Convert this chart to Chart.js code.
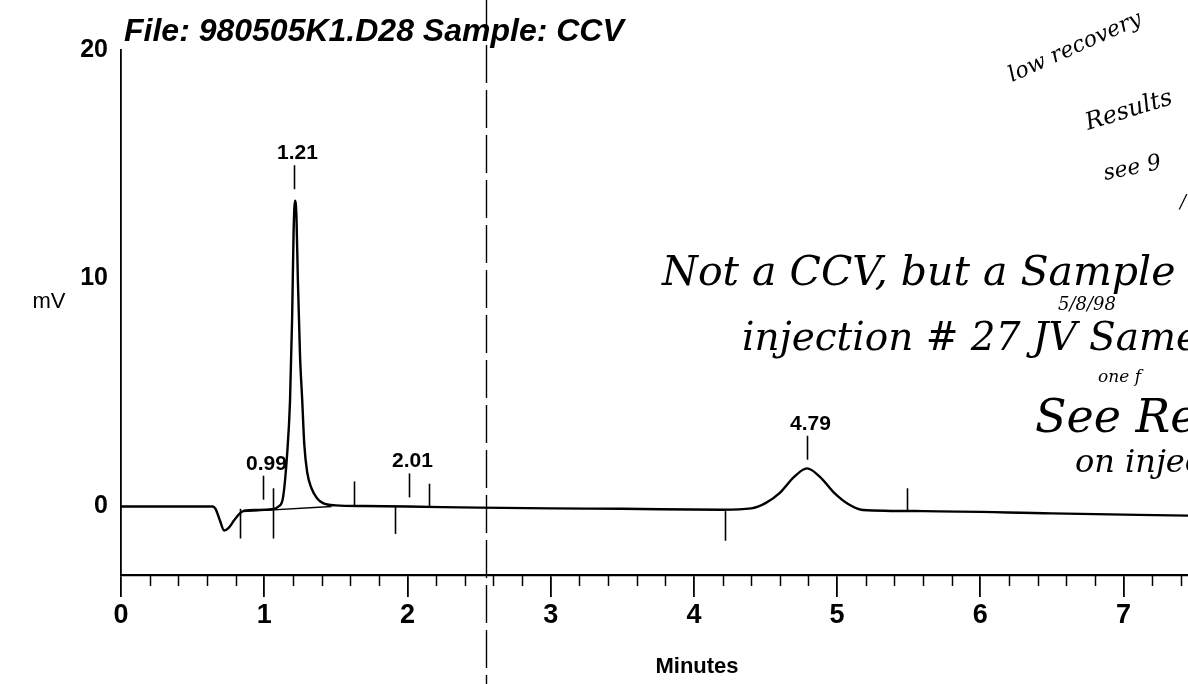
<!DOCTYPE html>
<html>
<head>
<meta charset="utf-8">
<title>980505K1.D28</title>
<script src="https://cdn.jsdelivr.net/npm/chart.js@4"></script>
<style>
  html, body { margin: 0; padding: 0; background: #fff; }
  #wrap { width: 1188px; height: 684px; position: relative; }
</style>
</head>
<body>
<div id="wrap"><canvas id="chromatogram"></canvas></div>
<script>
'use strict';

// Detector trace (minutes, mV)

let traceTimes = [0, 0.3, 0.64, 0.66, 0.69, 0.72, 0.75, 0.79, 0.83, 0.86, 0.95, 1.05, 1.10, 1.13, 1.16,
  1.18, 1.195, 1.205, 1.215, 1.225, 1.235, 1.25, 1.265, 1.28, 1.30, 1.33, 1.37, 1.41, 1.5, 1.7,
  2.0, 2.5, 3.0, 3.5, 4.2, 4.40, 4.50, 4.60, 4.70, 4.79, 4.88, 4.98, 5.08, 5.18, 5.6, 6.5, 7.45];
let traceValues = [0, 0, 0, -0.1, -0.6, -1.05, -0.95, -0.6, -0.3, -0.18, -0.15, -0.12, 0.0, 0.35, 2.3,
  4.6, 8.3, 12.0, 13.4, 12.7, 9.9, 6.6, 4.7, 2.7, 1.5, 0.8, 0.35, 0.15, 0.05, 0.02,
  0.0, -0.05, -0.08, -0.1, -0.14, -0.08, 0.15, 0.6, 1.3, 1.67, 1.3, 0.6, 0.1, -0.15, -0.2, -0.3, -0.4];

// integrator baseline drawn under the big peak
let baselineTimes = [0.85, 1.47];
let baselineValues = [-0.22, 0.0];

// labelled peaks: retention time and where the marker stands (mV)
let peakTimes = [0.99, 1.21, 2.01, 4.79];
let peakMarkBase = [0.3, 13.9, 0.4, 2.05];

// integration event marks
let eventTimes = [0.83, 1.06, 1.63, 1.91, 2.15, 4.22, 5.49];
let eventTop = [-0.1, 0.8, 1.1, 0.0, 1.0, -0.2, 0.8];
let eventBottom = [-1.4, -1.4, 0.0, -1.2, 0.0, -1.5, -0.2];

// axes
let xTicks = [0, 1, 2, 3, 4, 5, 6, 7];
let yTicks = [0, 10, 20];
let xMin = 0;
let xMax = 7.45;
let yMin = -3;
let yMax = 20;
let minorStep = 0.2;
let cursorTime = 2.55;

let titleText = 'File: 980505K1.D28 Sample: CCV';

// handwritten notes on the printout
let notes = [
  { text: 'Not a CCV, but a Sample', x: 662, y: 285, size: 41, rot: 0 },
  { text: '5/8/98', x: 1058, y: 310, size: 18, rot: 0 },
  { text: 'injection # 27 JV Same', x: 742, y: 350, size: 39, rot: 0 },
  { text: 'one f', x: 1098, y: 382, size: 17, rot: 0 },
  { text: 'See Result', x: 1035, y: 432, size: 46, rot: 0 },
  { text: 'on injection', x: 1075, y: 472, size: 32, rot: 0 },
  { text: 'low recovery', x: 1012, y: 82, size: 22, rot: -0.42 },
  { text: 'Results', x: 1088, y: 130, size: 24, rot: -0.3 },
  { text: 'see 9', x: 1105, y: 180, size: 22, rot: -0.2 },
  { text: '/', x: 1180, y: 208, size: 18, rot: 0 }
];

function toPoints(xs, ys) {
  let pts = [];
  for (let i = 0; i < xs.length; i++) {
    pts.push({ x: xs[i], y: ys[i] });
  }
  return pts;
}

let annotations = {
  id: 'annotations',
  afterDraw(chart) {
    let ctx = chart.ctx;
    let x = chart.scales.x;
    let y = chart.scales.y;
    let area = chart.chartArea;
    ctx.save();
    ctx.strokeStyle = '#000';
    ctx.fillStyle = '#000';

    // minor ticks along the time axis
    ctx.lineWidth = 1.5;
    for (let t = xMin; t <= xMax + 1e-9; t += minorStep) {
      if (Math.abs(t - Math.round(t)) < 1e-6) continue;
      let px = Math.round(x.getPixelForValue(t)) + 0.5;
      ctx.beginPath();
      ctx.moveTo(px, area.bottom);
      ctx.lineTo(px, area.bottom + 11);
      ctx.stroke();
    }

    // event marks
    ctx.lineWidth = 1.6;
    for (let i = 0; i < eventTimes.length; i++) {
      let px = Math.round(x.getPixelForValue(eventTimes[i])) + 0.5;
      ctx.beginPath();
      ctx.moveTo(px, y.getPixelForValue(eventTop[i]));
      ctx.lineTo(px, y.getPixelForValue(eventBottom[i]));
      ctx.stroke();
    }

    // peak markers and retention time labels
    ctx.font = 'bold 21px "Liberation Sans", Arial, sans-serif';
    ctx.textAlign = 'center';
    ctx.textBaseline = 'alphabetic';
    for (let i = 0; i < peakTimes.length; i++) {
      let px = Math.round(x.getPixelForValue(peakTimes[i])) + 0.5;
      let py0 = y.getPixelForValue(peakMarkBase[i]);
      let py1 = y.getPixelForValue(peakMarkBase[i] + 1.05);
      ctx.beginPath();
      ctx.moveTo(px, py0);
      ctx.lineTo(px, py1);
      ctx.stroke();
      ctx.fillText(peakTimes[i].toFixed(2), px + 3, py1 - 6);
    }

    // dashed cursor line
    let cx = Math.round(x.getPixelForValue(cursorTime)) + 0.5;
    ctx.setLineDash([38, 7]);
    ctx.lineWidth = 1.4;
    ctx.beginPath();
    ctx.moveTo(cx, 0);
    ctx.lineTo(cx, chart.height);
    ctx.stroke();
    ctx.setLineDash([]);

    // title and axis titles
    ctx.textAlign = 'left';
    ctx.font = 'italic bold 32px "Liberation Sans", Arial, sans-serif';
    ctx.fillText(titleText, 124, 41);
    ctx.textAlign = 'center';
    ctx.textBaseline = 'middle';
    ctx.font = '22px "Liberation Sans", Arial, sans-serif';
    ctx.fillText('mV', 49, 302);
    ctx.font = 'bold 22px "Liberation Sans", Arial, sans-serif';
    ctx.fillText('Minutes', 697, 667);

    // handwritten notes
    ctx.textAlign = 'left';
    ctx.textBaseline = 'alphabetic';
    for (let n of notes) {
      ctx.save();
      ctx.translate(n.x, n.y);
      ctx.rotate(n.rot);
      ctx.font = 'italic ' + n.size + 'px "DejaVu Serif", serif';
      ctx.fillText(n.text, 0, 0);
      ctx.restore();
    }
    ctx.restore();
  }
};

let xTickFont = { family: '"Liberation Sans", Arial, sans-serif', size: 27, weight: 'bold' };
let yTickFont = { family: '"Liberation Sans", Arial, sans-serif', size: 25, weight: 'bold' };

new Chart(document.getElementById('chromatogram'), {
  type: 'line',
  data: {
    datasets: [
      {
        label: 'Signal',
        data: toPoints(traceTimes, traceValues),
        borderColor: '#000',
        borderWidth: 2.4,
        pointRadius: 0,
        cubicInterpolationMode: 'monotone',
        fill: false
      },
      {
        label: 'Baseline',
        data: toPoints(baselineTimes, baselineValues),
        borderColor: '#000',
        borderWidth: 1.3,
        pointRadius: 0,
        fill: false
      }
    ]
  },
  plugins: [annotations],
  options: {
    responsive: true,
    maintainAspectRatio: false,
    animation: false,
    devicePixelRatio: 1,
    layout: { padding: { top: 50, right: 0, left: 0, bottom: 0 } },
    plugins: {
      legend: { display: false },
      tooltip: { enabled: false },
      title: { display: false }
    },
    scales: {
      x: {
        type: 'linear',
        min: xMin,
        max: xMax,
        afterBuildTicks: (scale) => { scale.ticks = xTicks.map(v => ({ value: v })); },
        afterFit: (scale) => { scale.height = 109; },
        border: { display: true, color: '#000', width: 2.2 },
        grid: { display: true, drawOnChartArea: false, drawTicks: true, tickLength: 22, color: '#000', lineWidth: 1.8 },
        ticks: { color: '#000', font: xTickFont, padding: 2, autoSkip: false, maxRotation: 0 }
      },
      y: {
        type: 'linear',
        min: yMin,
        max: yMax,
        afterBuildTicks: (scale) => { scale.ticks = yTicks.map(v => ({ value: v })); },
        afterFit: (scale) => { scale.width = 121; },
        border: { display: true, color: '#000', width: 1.8 },
        grid: { display: false, drawTicks: false },
        ticks: { color: '#000', font: yTickFont, padding: 13 }
      }
    }
  }
});
</script>
</body>
</html>
